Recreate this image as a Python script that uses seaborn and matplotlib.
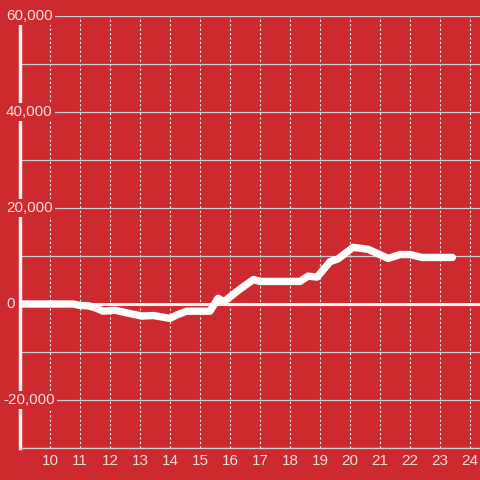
import numpy as np
import pandas as pd
import seaborn as sns
import matplotlib.pyplot as plt
import matplotlib.transforms as mtransforms
from matplotlib.ticker import MultipleLocator, FixedLocator

# values
hora = [9.0, 10.77, 11.0, 11.3, 11.55, 11.77, 12.17, 12.67, 13.06, 13.44, 14.0,
        14.22, 14.55, 15.33, 15.6, 15.8, 16.33, 16.78, 17.0, 18.33, 18.6, 18.9,
        19.33, 19.6, 20.1, 20.6, 21.27, 21.67, 22.0, 22.4, 23.41]
valor = [0, 0, -300, -400, -900, -1500, -1300, -2000, -2500, -2400, -3000,
         -2300, -1500, -1500, 1200, 500, 3100, 5100, 4700, 4700, 5800, 5600,
         8800, 9400, 11800, 11400, 9500, 10300, 10300, 9700, 9700]
xticks = list(range(10, 25))
yticks = [-20000, 0, 20000, 40000, 60000]
ylabels = ['-20,000', '0', '20,000', '40,000', '60,000']

rojo = '#cc2a2f'
texto = '#f6dcdc'

sns.set_theme(style='white')
plt.rcParams['font.family'] = ['Liberation Sans', 'DejaVu Sans']

fig = plt.figure(figsize=(4.8, 4.8), dpi=100, facecolor=rojo)
ax = fig.add_axes([20/480, 32/480, 460/480, 432/480])
ax.set_facecolor(rojo)

datos = pd.DataFrame({'hora': hora, 'valor': valor})
sns.lineplot(x='hora', y='valor', data=datos, ax=ax, color='white',
             linewidth=5.3, zorder=3)
ax.axhline(0, color='#f2f2f2', linewidth=2.2, zorder=2)

ax.set_xlim(9.0, 24.33)
ax.set_ylim(-30000, 60000)
ax.set_xlabel('')
ax.set_ylabel('')

ax.xaxis.set_major_locator(FixedLocator(xticks))
ax.set_xticklabels([str(t) for t in xticks])
ax.yaxis.set_major_locator(FixedLocator(yticks))
ax.yaxis.set_minor_locator(MultipleLocator(10000))
ax.set_yticklabels([])

ax.grid(True, axis='x', which='major', color='#eeeeee', linestyle=(0, (2, 2)), linewidth=0.8)
ax.grid(True, axis='y', which='both', color='#cfcfcf', linestyle='-', linewidth=0.9)

ax.tick_params(axis='x', length=0, pad=4, labelsize=11, colors=texto)
ax.tick_params(axis='y', which='both', length=0)

# y labels sit over the spine with a red box behind them
trans = mtransforms.blended_transform_factory(ax.transAxes, ax.transData)
for v, lab in zip(yticks, ylabels):
    x0 = (3 - 20) / 460 if lab.startswith('-') else (6 - 20) / 460
    ax.text(x0, v, lab, transform=trans, ha='left', va='center', fontsize=11,
            color=texto, clip_on=False, zorder=5,
            bbox=dict(facecolor=rojo, edgecolor='none', pad=1.5))

for s in ['top', 'right']:
    ax.spines[s].set_visible(False)
ax.spines['left'].set_color('#f2f2f2')
ax.spines['left'].set_linewidth(2.5)
ax.spines['left'].set_zorder(1)
ax.spines['bottom'].set_color('#cfcfcf')
ax.spines['bottom'].set_linewidth(0.9)

fig.savefig('out.png', dpi=100, facecolor=rojo)
